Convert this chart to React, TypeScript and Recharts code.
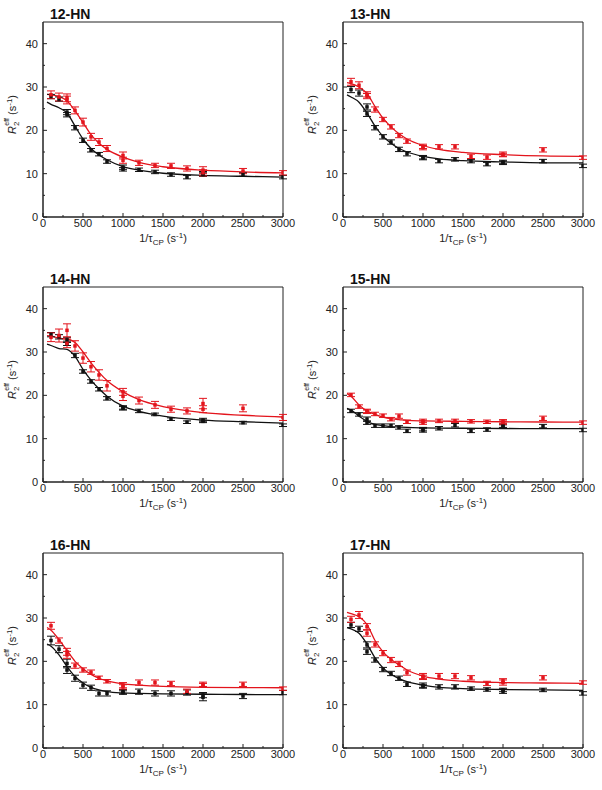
import React from 'react';
import { ComposedChart, Line, Scatter, ErrorBar, XAxis, YAxis, ReferenceArea } from 'recharts';

// measured relaxation-dispersion points (same CPMG frequencies for every residue)
const ptX = [100, 200, 300, 300, 400, 500, 600, 700, 800, 1000, 1000, 1200, 1400, 1600, 1800, 2000, 2000, 2500, 3000];
const fitX = [50, 100, 200, 300, 400, 500, 600, 700, 800, 1000, 1200, 1500, 2000, 2500, 3000];

const xTicks = [0, 250, 500, 750, 1000, 1250, 1500, 1750, 2000, 2250, 2500, 2750, 3000];
const yTicks = [0, 5, 10, 15, 20, 25, 30, 35, 40];

const titles = ['12-HN', '13-HN', '14-HN', '15-HN', '16-HN', '17-HN'];

const redPts = [
  [28.2, 27.7, 27.5, 27.0, 24.6, 21.9, 18.5, 17.3, 15.8, 14.2, 13.1, 12.5, 11.9, 11.8, 11.2, 10.8, 10.2, 10.6, 10.2],
  [31.2, 30.4, 28.3, 27.9, 24.8, 22.5, 20.8, 18.8, 17.5, 16.3, 16.0, 16.2, 16.2, 14.0, 13.8, 14.5, 14.3, 15.5, 13.7],
  [33.4, 33.8, 35.0, 32.0, 31.4, 28.6, 26.6, 24.7, 22.2, 19.8, 20.8, 18.8, 17.8, 16.8, 16.4, 18.1, 16.8, 17.0, 14.9],
  [20.1, 17.4, 16.4, 16.2, 15.7, 15.3, 14.5, 15.2, 13.9, 14.1, 13.7, 14.1, 14.1, 14.0, 13.9, 14.0, 13.7, 14.7, 13.7],
  [28.2, 24.8, 22.2, 21.5, 19.0, 18.0, 17.5, 16.2, 15.4, 14.5, 14.1, 15.1, 15.1, 14.9, 13.1, 14.7, 14.5, 14.7, 13.7],
  [29.7, 30.7, 28.0, 26.5, 23.9, 21.9, 20.3, 19.4, 17.4, 16.6, 16.3, 16.6, 16.6, 16.2, 14.9, 15.1, 15.5, 16.2, 15.1],
];
const redErr = [
  [0.9, 0.9, 0.9, 0.9, 0.8, 0.9, 0.8, 0.8, 0.7, 0.8, 0.7, 0.6, 0.5, 0.6, 0.6, 0.8, 0.7, 0.6, 0.5],
  [0.8, 0.8, 0.6, 0.6, 0.6, 0.5, 0.5, 0.5, 0.5, 0.5, 0.5, 0.5, 0.5, 0.5, 0.5, 0.5, 0.4, 0.5, 0.4],
  [1.0, 1.5, 1.5, 1.0, 1.2, 1.2, 1.2, 1.2, 1.2, 1.0, 0.8, 0.8, 0.8, 0.7, 0.7, 1.2, 0.8, 0.8, 0.7],
  [0.4, 0.4, 0.4, 0.4, 0.4, 0.4, 0.4, 0.5, 0.4, 0.4, 0.4, 0.4, 0.4, 0.4, 0.4, 0.4, 0.4, 0.5, 0.4],
  [0.8, 0.6, 0.8, 0.8, 0.6, 0.5, 0.5, 0.4, 0.4, 0.6, 0.5, 0.6, 0.6, 0.5, 0.5, 0.5, 0.4, 0.5, 0.4],
  [0.7, 0.8, 0.7, 0.7, 0.6, 0.6, 0.6, 0.6, 0.6, 0.6, 0.5, 0.6, 0.6, 0.5, 0.5, 0.6, 0.5, 0.5, 0.4],
];
const blackPts = [
  [27.8, 27.2, 24.2, 23.6, 20.6, 17.7, 15.4, 14.5, 12.8, 11.5, 11.0, 10.9, 10.4, 9.8, 9.2, 10.0, 9.8, 9.8, 9.2],
  [29.4, 28.6, 25.4, 23.8, 20.6, 18.5, 17.3, 15.6, 14.6, 13.8, 13.6, 12.9, 13.3, 12.9, 12.2, 12.5, 12.7, 12.9, 11.8],
  [34.0, 33.5, 32.8, 32.0, 29.2, 25.5, 23.2, 21.4, 19.3, 17.2, 17.0, 16.4, 15.6, 14.5, 13.8, 14.3, 14.0, 13.7, 13.1],
  [16.4, 15.6, 14.5, 13.7, 13.0, 13.0, 13.0, 12.6, 11.8, 12.2, 11.9, 12.4, 13.1, 11.8, 12.1, 13.0, 12.8, 12.9, 12.0],
  [24.8, 22.8, 19.5, 18.0, 16.1, 14.5, 13.9, 12.6, 12.6, 13.0, 12.8, 13.0, 12.6, 12.6, 12.8, 11.7, 12.2, 12.0, 12.8],
  [28.4, 27.5, 23.8, 22.2, 20.3, 18.1, 17.2, 16.1, 14.7, 14.5, 14.2, 14.1, 14.1, 13.7, 13.5, 13.1, 13.4, 13.4, 12.6],
];
const blackErr = [
  [0.5, 0.5, 0.6, 0.5, 0.5, 0.5, 0.4, 0.4, 0.4, 0.5, 0.4, 0.4, 0.4, 0.4, 0.4, 0.5, 0.4, 0.4, 0.4],
  [0.7, 0.7, 0.7, 0.6, 0.5, 0.5, 0.5, 0.5, 0.5, 0.4, 0.4, 0.4, 0.4, 0.4, 0.4, 0.4, 0.4, 0.4, 0.4],
  [0.5, 0.5, 0.6, 0.5, 0.5, 0.4, 0.4, 0.4, 0.4, 0.4, 0.4, 0.4, 0.3, 0.3, 0.3, 0.4, 0.3, 0.3, 0.3],
  [0.4, 0.4, 0.5, 0.4, 0.4, 0.4, 0.4, 0.4, 0.4, 0.4, 0.4, 0.4, 0.4, 0.4, 0.4, 0.4, 0.4, 0.4, 0.4],
  [1.0, 0.8, 1.0, 0.8, 0.7, 0.7, 0.6, 0.6, 0.6, 0.5, 0.4, 0.6, 0.6, 0.6, 0.6, 0.8, 0.6, 0.6, 0.5],
  [0.6, 0.6, 0.7, 0.6, 0.5, 0.5, 0.5, 0.5, 0.5, 0.5, 0.4, 0.5, 0.5, 0.4, 0.4, 0.5, 0.4, 0.4, 0.4],
];

const redFit = [
  [28.3, 28.2, 27.8, 26.8, 24.5, 21.8, 19.0, 17.0, 15.6, 13.8, 12.6, 11.6, 10.8, 10.4, 10.2],
  [31.0, 30.8, 30.0, 28.5, 25.5, 22.8, 20.8, 19.2, 18.0, 16.5, 15.6, 14.9, 14.4, 14.1, 14.0],
  [33.8, 33.7, 33.2, 33.0, 32.2, 30.0, 27.5, 25.3, 23.4, 20.8, 19.0, 17.4, 16.0, 15.4, 15.0],
  [20.4, 19.8, 17.8, 16.4, 15.6, 15.0, 14.6, 14.4, 14.2, 14.1, 14.05, 14.0, 13.9, 13.85, 13.8],
  [27.8, 27.2, 25.0, 22.5, 20.0, 18.3, 17.0, 16.1, 15.5, 14.8, 14.5, 14.2, 14.0, 13.95, 13.9],
  [31.3, 31.0, 30.3, 28.5, 24.8, 22.2, 20.5, 19.2, 18.0, 16.6, 15.9, 15.4, 15.1, 15.0, 14.9],
];
const blackFit = [
  [26.5, 26.0, 25.2, 24.0, 21.0, 18.0, 15.8, 14.3, 13.2, 11.6, 10.8, 10.1, 9.6, 9.4, 9.2],
  [28.2, 27.7, 26.5, 24.0, 21.0, 18.6, 17.0, 15.8, 15.0, 14.0, 13.4, 13.0, 12.7, 12.5, 12.5],
  [31.8, 31.5, 30.8, 30.6, 29.0, 26.0, 23.5, 21.5, 19.8, 17.5, 16.3, 15.2, 14.3, 13.9, 13.6],
  [17.0, 16.6, 15.2, 14.0, 13.3, 13.0, 12.8, 12.7, 12.6, 12.5, 12.45, 12.4, 12.35, 12.3, 12.3],
  [24.0, 23.5, 21.5, 18.8, 16.5, 15.0, 14.0, 13.4, 13.0, 12.7, 12.6, 12.5, 12.4, 12.35, 12.3],
  [27.8, 27.5, 26.5, 24.0, 20.8, 18.5, 17.0, 16.0, 15.3, 14.5, 14.0, 13.7, 13.5, 13.4, 13.3],
];

const RED = '#e3141c';
const BLACK = '#111111';
const AXIS = '#222222';
const FONT = '"Liberation Sans", Arial, Helvetica, sans-serif';

const rowTops = [0, 265, 531];

const XTick = (props: any) => {
  const { x, y, payload } = props;
  const major = payload.value % 500 === 0;
  return (
    <g>
      <line x1={x} x2={x} y1={y} y2={y - (major ? 4 : 2)} stroke={AXIS} strokeWidth={1} />
      {major && (
        <text x={x} y={y + 10} textAnchor="middle" fontSize={11} fill={AXIS} fontFamily={FONT}>
          {payload.value}
        </text>
      )}
    </g>
  );
};

const YTick = (props: any) => {
  const { x, y, payload } = props;
  const major = payload.value % 10 === 0;
  return (
    <g>
      <line x1={x} x2={x + (major ? 4 : 2)} y1={y} y2={y} stroke={AXIS} strokeWidth={1} />
      {major && (
        <text x={x - 5} y={y + 4} textAnchor="end" fontSize={11} fill={AXIS} fontFamily={FONT}>
          {payload.value}
        </text>
      )}
    </g>
  );
};

const XLabel = (props: any) => {
  const vb = props.viewBox || {};
  const cx = vb.x + vb.width / 2;
  const y = vb.y + 25;
  return (
    <text x={cx} y={y} textAnchor="middle" fontSize={11} fill={AXIS} fontFamily={FONT}>
      1/τ
      <tspan fontSize={8} dy={3}>CP</tspan>
      <tspan dy={-3}> (s</tspan>
      <tspan fontSize={8} dy={-4}>-1</tspan>
      <tspan dy={4}>)</tspan>
    </text>
  );
};

const YLabel = (props: any) => {
  const vb = props.viewBox || {};
  const cx = 16;
  const cy = vb.y + vb.height / 2 - 5;
  return (
    <text x={cx} y={cy} textAnchor="middle" fontSize={11} fill={AXIS} fontFamily={FONT}
      transform={`rotate(-90, ${cx}, ${cy})`}>
      <tspan fontStyle="italic">R</tspan>
      <tspan fontSize={8} dy={3}>2</tspan>
      <tspan fontSize={7} dx={-4} dy={-10}>eff</tspan>
      <tspan dy={7}> (s</tspan>
      <tspan fontSize={8} dy={-4}>-1</tspan>
      <tspan dy={4}>)</tspan>
    </text>
  );
};

const Marker = (color: string) => (props: any) => {
  const { cx, cy } = props;
  if (cx == null || cy == null) return null;
  return <rect x={cx - 1.75} y={cy - 1.75} width={3.5} height={3.5} fill={color} />;
};
const RedMarker = Marker(RED);
const BlackMarker = Marker(BLACK);

function Panel({ idx }: { idx: number }) {
  const col = idx % 2;
  const row = Math.floor(idx / 2);
  const red = ptX.map((x, i) => ({ x, y: redPts[idx][i], e: redErr[idx][i] }));
  const black = ptX.map((x, i) => ({ x, y: blackPts[idx][i], e: blackErr[idx][i] }));
  const rf = fitX.map((x, i) => ({ x, y: redFit[idx][i] }));
  const bf = fitX.map((x, i) => ({ x, y: blackFit[idx][i] }));
  return (
    <div style={{ position: 'absolute', left: col * 300, top: rowTops[row], width: 300, height: 262 }}>
      <div style={{ position: 'absolute', left: 50, top: 6, fontFamily: FONT, fontWeight: 700, fontSize: 14, color: '#111', lineHeight: '16px' }}>
        {titles[idx]}
      </div>
      <ComposedChart width={300} height={262} margin={{ top: 22, right: 17, bottom: 0, left: 0 }}>
        <XAxis type="number" dataKey="x" domain={[0, 3000]} ticks={xTicks} interval={0}
          tick={<XTick />} tickLine={false} tickSize={0} tickMargin={0} height={45}
          axisLine={{ stroke: AXIS }} label={<XLabel />} allowDataOverflow />
        <YAxis type="number" dataKey="y" domain={[0, 45]} ticks={yTicks} interval={0}
          tick={<YTick />} tickLine={false} tickSize={0} tickMargin={0} width={43}
          axisLine={{ stroke: AXIS }} label={<YLabel />} allowDataOverflow />
        <ReferenceArea x1={0} x2={3000} y1={0} y2={45} fill="none" stroke={AXIS} strokeWidth={1} ifOverflow="visible" />
        <Line data={bf} dataKey="y" type="monotone" stroke={BLACK} strokeWidth={1.3} dot={false} isAnimationActive={false} />
        <Line data={rf} dataKey="y" type="monotone" stroke={RED} strokeWidth={1.3} dot={false} isAnimationActive={false} />
        <Scatter data={black} dataKey="y" shape={BlackMarker} isAnimationActive={false}>
          <ErrorBar dataKey="e" direction="y" width={4} stroke={BLACK} strokeWidth={1} isAnimationActive={false} />
        </Scatter>
        <Scatter data={red} dataKey="y" shape={RedMarker} isAnimationActive={false}>
          <ErrorBar dataKey="e" direction="y" width={4} stroke={RED} strokeWidth={1} isAnimationActive={false} />
        </Scatter>
      </ComposedChart>
    </div>
  );
}

export default function App() {
  return (
    <div style={{ position: 'relative', width: 602, height: 790, background: '#fff' }}>
      <style>{`body{margin:0;}`}</style>
      {[0, 1, 2, 3, 4, 5].map((i) => <Panel key={i} idx={i} />)}
    </div>
  );
}
